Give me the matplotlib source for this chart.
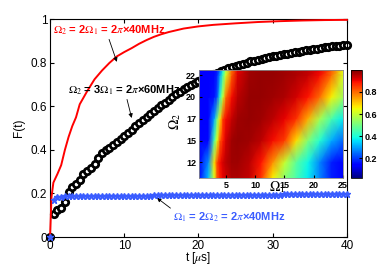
import numpy as np
import matplotlib.pyplot as plt

plt.rcParams['font.family'] = ['Liberation Sans', 'DejaVu Sans']
plt.rcParams['mathtext.fontset'] = 'stix'

# black circles: Omega2 = 3 Omega1
t_black = np.arange(0, 40.5, 0.5)
F_black = [0.0, 0.105, 0.122, 0.132, 0.16, 0.205, 0.23, 0.245, 0.262, 0.288,
           0.303, 0.318, 0.337, 0.365, 0.385, 0.398, 0.41, 0.423, 0.438, 0.452,
           0.466, 0.48, 0.494, 0.508, 0.522, 0.536, 0.55, 0.564, 0.578, 0.592,
           0.605, 0.618, 0.631, 0.643, 0.655, 0.667, 0.678, 0.689, 0.699, 0.708,
           0.717, 0.725, 0.733, 0.741, 0.748, 0.755, 0.762, 0.769, 0.775, 0.781,
           0.787, 0.792, 0.797, 0.802, 0.807, 0.811, 0.815, 0.819, 0.823, 0.827,
           0.830, 0.834, 0.837, 0.840, 0.843, 0.846, 0.849, 0.852, 0.855, 0.858,
           0.861, 0.864, 0.866, 0.869, 0.871, 0.874, 0.876, 0.878, 0.880, 0.882,
           0.884]

# red line: Omega2 = 2 Omega1
t_red = [0, 0.2, 0.45, 1.0, 1.5, 2.0, 2.5, 3.0, 3.5, 4.0, 5.0, 6.0, 7.0, 8.0, 9.0,
         10, 11, 12, 13, 14, 15, 16, 18, 20, 22, 25, 28, 31, 34, 37, 40]
F_red = [0, 0.185, 0.25, 0.29, 0.33, 0.4, 0.46, 0.51, 0.55, 0.61, 0.67, 0.725,
         0.765, 0.8, 0.83, 0.85, 0.868, 0.888, 0.905, 0.92, 0.932, 0.942, 0.958,
         0.968, 0.975, 0.982, 0.988, 0.992, 0.995, 0.997, 0.998]

# blue stars: Omega1 = 2 Omega2
t_blue = np.arange(0, 40.5, 0.5)
F_blue = [0.0, 0.17, 0.182, 0.185, 0.187, 0.188, 0.188, 0.188, 0.188, 0.188,
          0.188, 0.188, 0.189, 0.189, 0.189, 0.189, 0.189, 0.189, 0.189, 0.189,
          0.190, 0.190, 0.190, 0.190, 0.190, 0.190, 0.190, 0.190, 0.191, 0.191,
          0.191, 0.191, 0.191, 0.191, 0.191, 0.192, 0.192, 0.192, 0.192, 0.192,
          0.192, 0.192, 0.193, 0.193, 0.193, 0.193, 0.193, 0.193, 0.193, 0.194,
          0.194, 0.194, 0.194, 0.194, 0.194, 0.194, 0.195, 0.195, 0.195, 0.195,
          0.195, 0.195, 0.195, 0.196, 0.196, 0.196, 0.196, 0.196, 0.196, 0.196,
          0.196, 0.197, 0.197, 0.197, 0.197, 0.197, 0.197, 0.197, 0.197, 0.197,
          0.197]

# inset map F(Omega1, Omega2)
om1 = [0.4, 2, 3, 3.5, 4, 4.5, 5, 6, 7, 9, 11, 13, 15, 17, 19, 21, 23, 25]
om2 = [10.7, 12.5, 15, 17.5, 20, 22.5, 23.1]
F_map = [
    [0.13, 0.33, 0.62, 0.82, 0.88, 0.91, 0.93, 0.96, 0.96, 0.94, 0.86, 0.66, 0.53, 0.45, 0.37, 0.27, 0.17, 0.13],
    [0.13, 0.28, 0.68, 0.84, 0.90, 0.93, 0.95, 0.97, 0.97, 0.95, 0.89, 0.76, 0.60, 0.47, 0.38, 0.27, 0.17, 0.13],
    [0.13, 0.15, 0.45, 0.63, 0.82, 0.88, 0.93, 0.97, 0.98, 0.97, 0.95, 0.90, 0.85, 0.68, 0.52, 0.41, 0.31, 0.24],
    [0.13, 0.14, 0.30, 0.50, 0.68, 0.85, 0.90, 0.94, 0.97, 0.98, 0.97, 0.95, 0.91, 0.86, 0.73, 0.56, 0.45, 0.37],
    [0.13, 0.14, 0.16, 0.22, 0.42, 0.60, 0.80, 0.90, 0.95, 0.98, 0.98, 0.97, 0.96, 0.93, 0.89, 0.80, 0.66, 0.55],
    [0.13, 0.14, 0.15, 0.18, 0.30, 0.45, 0.62, 0.82, 0.92, 0.97, 0.98, 0.98, 0.97, 0.96, 0.94, 0.90, 0.80, 0.62],
    [0.13, 0.14, 0.15, 0.17, 0.26, 0.40, 0.58, 0.80, 0.91, 0.97, 0.98, 0.98, 0.97, 0.96, 0.95, 0.91, 0.82, 0.65],
]

blue = '#3a5cff'

fig = plt.figure(figsize=(3.82, 2.66), dpi=100)
ax = fig.add_axes([0.131, 0.109, 0.777, 0.818])

ax.plot(t_black, F_black, 'o', mfc='white', mec='black', ms=4.6, mew=2.0, clip_on=False, zorder=2)
ax.plot(t_red, F_red, '-', color='red', lw=1.4, clip_on=False, zorder=3)
ax.plot(t_blue, F_blue, '*', color=blue, ms=4.5, mew=1.0, clip_on=False, zorder=4)

ax.set_xlim(0, 40)
ax.set_ylim(0, 1)
ax.set_xticks([0, 10, 20, 30, 40])
ax.set_yticks([0, 0.2, 0.4, 0.6, 0.8, 1])
ax.set_yticklabels(['0', '0.2', '0.4', '0.6', '0.8', '1'])
ax.tick_params(direction='in', top=True, right=True, labelsize=8.5, length=3, pad=2)
ax.set_xlabel(r't [$\mu$s]', fontsize=8.5, labelpad=-1)
ax.set_ylabel('F(t)', fontsize=8.5, labelpad=4)

arrow = dict(arrowstyle='-|>', color='black', lw=0.6, mutation_scale=6, shrinkA=0, shrinkB=0)
ax.annotate(r'$\Omega_2$ = 2$\Omega_1$ = 2$\pi$×40MHz', xy=(9.0, 0.805), xytext=(0.4, 0.952),
            color='red', fontsize=8, fontweight='bold', va='center',
            arrowprops=dict(arrow, relpos=(0.49, 0)))
ax.annotate(r'$\Omega_2$ = 3$\Omega_1$ = 2$\pi$×60MHz', xy=(11.0, 0.547), xytext=(2.4, 0.676),
            color='black', fontsize=8, fontweight='bold', va='center',
            arrowprops=dict(arrow, relpos=(0.52, 0)))
ax.annotate(r'$\Omega_1$ = 2$\Omega_2$ = 2$\pi$×40MHz', xy=(14.4, 0.18), xytext=(16.6, 0.092),
            color=blue, fontsize=8, fontweight='bold', va='center',
            arrowprops=dict(arrow, relpos=(0.0, 1.0)))

# inset
ins = fig.add_axes([0.521, 0.331, 0.377, 0.406], zorder=5)
mesh = ins.pcolormesh(om1, om2, np.array(F_map), cmap='jet', vmin=0.02, vmax=1.0, shading='gouraud')
ins.set_xlim(0.4, 25)
ins.set_ylim(10.7, 23.1)
ins.set_xticks([5, 10, 15, 20, 25])
ins.set_yticks([12.5, 15, 17.5, 20, 22.5])
ins.set_yticklabels(['12', '15', '17', '20', '22'])
ins.tick_params(direction='in', labelsize=6.5, length=2, pad=2)
for lab in ins.get_xticklabels() + ins.get_yticklabels():
    lab.set_fontweight('bold')
for s in ins.spines.values():
    s.set_color('#888888')
    s.set_linewidth(0.6)
ins.set_xlabel(r'$\Omega_1$', fontsize=10, labelpad=0)
ins.xaxis.set_label_coords(0.54, -0.01)
ins.set_ylabel(r'$\Omega_2$', fontsize=10)
ins.yaxis.set_label_coords(-0.11, 0.52)

cax = fig.add_axes([0.919, 0.331, 0.029, 0.406])
cb = fig.colorbar(mesh, cax=cax)
cb.set_ticks([0.2, 0.4, 0.6, 0.8])
cb.ax.tick_params(direction='in', labelsize=6.5, length=2, pad=2)
for lab in cb.ax.get_yticklabels():
    lab.set_fontweight('bold')
cb.outline.set_linewidth(0.6)

fig.savefig('out.png', dpi=100)
